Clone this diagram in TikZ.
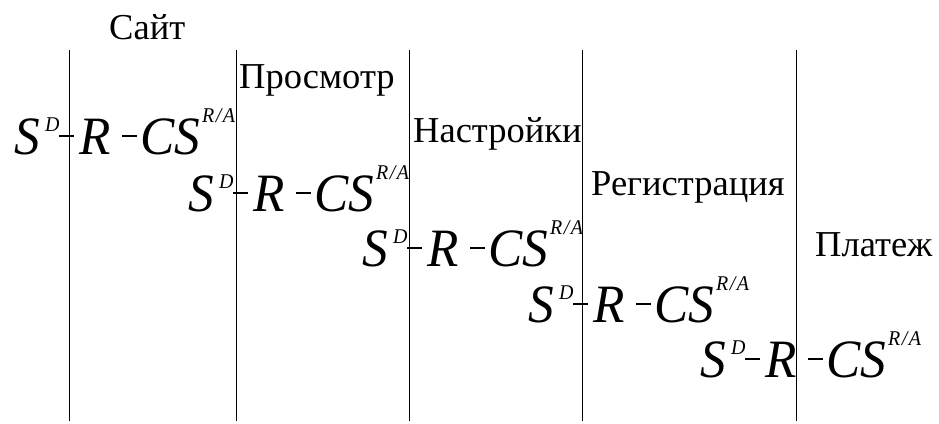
\documentclass[tikz,border=0pt]{standalone}
\usepackage{graphicx}
\usepackage{fontspec}
\setmainfont{Liberation Serif}
% sizes
\newcommand\bigsz{\fontsize{54}{54}\selectfont\itshape}
\newcommand\supsz{\fontsize{21}{21}\selectfont\itshape}
\newcommand\lblsz{\fontsize{36.5}{40}\selectfont}
% slightly narrow glyphs, as in the equation
\newcommand\narrow[1]{\scalebox{0.95}[1]{#1}}
% one glyph at a fixed offset
\newcommand\putat[2]{\rlap{\kern#1pt#2}}
\newcommand\mbar{\rule[17pt]{15pt}{1.6pt}}
% S^D - R - CS^{R/A}
\newcommand\sdrow{%
  \putat{0}{\narrow{\bigsz S}}%
  \putat{31}{\raisebox{23pt}{\narrow{\supsz D}}}%
  \putat{45}{\mbar}%
  \putat{65}{\narrow{\bigsz R}}%
  \putat{108}{\mbar}%
  \putat{126}{\narrow{\bigsz CS}}%
  \putat{188}{\raisebox{32pt}{\narrow{\supsz R\kern1.5pt/\kern1.5pt A}}}%
  \kern216pt}
\begin{document}
\begin{tikzpicture}[x=1pt, y=-1pt,
    lbl/.style={anchor=base west, inner sep=0pt, font=\lblsz},
    expr/.style={anchor=base west, inner sep=0pt},
    sep/.style={line width=1pt}]
    \useasboundingbox (0,0) rectangle (939,423);
    \def\ytop{50}
    \def\ybot{421}
    % Separators
    \draw[sep] (69.5,\ytop) -- (69.5,\ybot);
    \draw[sep] (236,\ytop) -- (236,\ybot);
    \draw[sep] (409.5,\ytop) -- (409.5,\ybot);
    \draw[sep] (582.5,\ytop) -- (582.5,\ybot);
    \draw[sep] (796.5,\ytop) -- (796.5,\ybot);

    % Stages
    \node[lbl] (site) at (109,39) {Сайт};
    \node[lbl] (view) at (239,88) {Просмотр};
    \node[lbl] (setup) at (413,142) {Настройки};
    \node[lbl] (reg) at (591,195) {Регистрация};
    \node[lbl] (pay) at (815,256) {Платеж};

    % Expressions
    \node[expr] (e1) at (14,154) {\sdrow};
    \node[expr] (e2) at (188,211) {\sdrow};
    \node[expr] (e3) at (362,266) {\sdrow};
    \node[expr] (e4) at (528,322) {\sdrow};
    \node[expr] (e5) at (700,377) {\sdrow};
\end{tikzpicture}
\end{document}
